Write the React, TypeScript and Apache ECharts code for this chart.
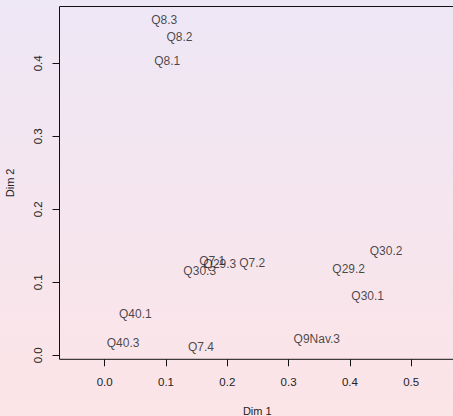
import React, { useEffect, useRef } from "react";
import * as echarts from "echarts";

const labels = ["Q8.3", "Q8.2", "Q8.1", "Q40.1", "Q40.3", "Q7.4", "Q30.3", "Q7.1", "Q29.3", "Q7.2", "Q30.2", "Q29.2", "Q30.1", "Q9Nav.3"];
const dim1 = [0.097, 0.122, 0.102, 0.05, 0.03, 0.157, 0.155, 0.1755, 0.188, 0.2405, 0.459, 0.398, 0.429, 0.346];
const dim2 = [0.459, 0.4365, 0.403, 0.0566, 0.0173, 0.0118, 0.1159, 0.1296, 0.125, 0.126, 0.1433, 0.1182, 0.0812, 0.0227];
const xTicks = [0, 0.1, 0.2, 0.3, 0.4, 0.5];
const yTicks = [0, 0.1, 0.2, 0.3, 0.4];

const FONT = "Liberation Sans, Arial, Helvetica, sans-serif";

export default function App() {
  const ref = useRef<HTMLDivElement>(null);
  useEffect(() => {
    if (!ref.current) return;
    const chart = echarts.init(ref.current, null, { renderer: "svg" });
    const data = labels.map((l, i) => [dim1[i], dim2[i], l]);
    chart.setOption({
      animation: false,
      backgroundColor: new echarts.graphic.LinearGradient(0, 0, 0, 1, [
        { offset: 0, color: "#EEE7F6" },
        { offset: 1, color: "#FCE4E7" },
      ]),
      grid: {
        left: 59.5,
        top: 6.5,
        right: -2,
        bottom: 56.7,
        containLabel: false,
        outerBoundsMode: "none",
        show: true,
        borderColor: "#111",
        borderWidth: 1,
        backgroundColor: "transparent",
      },
      xAxis: {
        type: "value",
        min: -0.0737,
        max: 0.5714,
        name: "Dim 1",
        nameLocation: "middle",
        nameGap: 46,
        nameTextStyle: { fontFamily: FONT, fontSize: 11, color: "#222" },
        splitLine: { show: false },
        axisLine: { show: false, onZero: false },
        axisTick: { show: true, length: 7, customValues: xTicks, lineStyle: { color: "#111" } },
        axisLabel: {
          customValues: xTicks,
          formatter: (v: number) => v.toFixed(1),
          margin: 17,
          fontFamily: FONT,
          fontSize: 11.5,
          color: "#222",
        },
      },
      yAxis: {
        type: "value",
        min: -0.0055,
        max: 0.4778,
        name: "Dim 2",
        nameLocation: "middle",
        nameGap: 44,
        nameRotate: 90,
        nameTextStyle: { fontFamily: FONT, fontSize: 11, color: "#222" },
        splitLine: { show: false },
        axisLine: { show: false, onZero: false },
        axisTick: { show: true, length: 7, customValues: yTicks, lineStyle: { color: "#111" } },
        axisLabel: {
          customValues: yTicks,
          formatter: (v: number) => v.toFixed(1),
          rotate: 90,
          margin: 16,
          fontFamily: FONT,
          fontSize: 11.5,
          color: "#222",
        },
      },
      series: [
        {
          type: "scatter",
          data,
          symbolSize: 0,
          label: {
            show: true,
            position: "inside",
            formatter: (p: any) => p.data[2],
            fontFamily: FONT,
            fontSize: 12,
            color: "#1a1a1a",
          },
          labelLayout: { hideOverlap: false },
        },
      ],
    });
    return () => chart.dispose();
  }, []);
  return (
    <div
      ref={ref}
      style={{ position: "fixed", left: 0, top: 0, width: 453, height: 416 }}
    />
  );
}
